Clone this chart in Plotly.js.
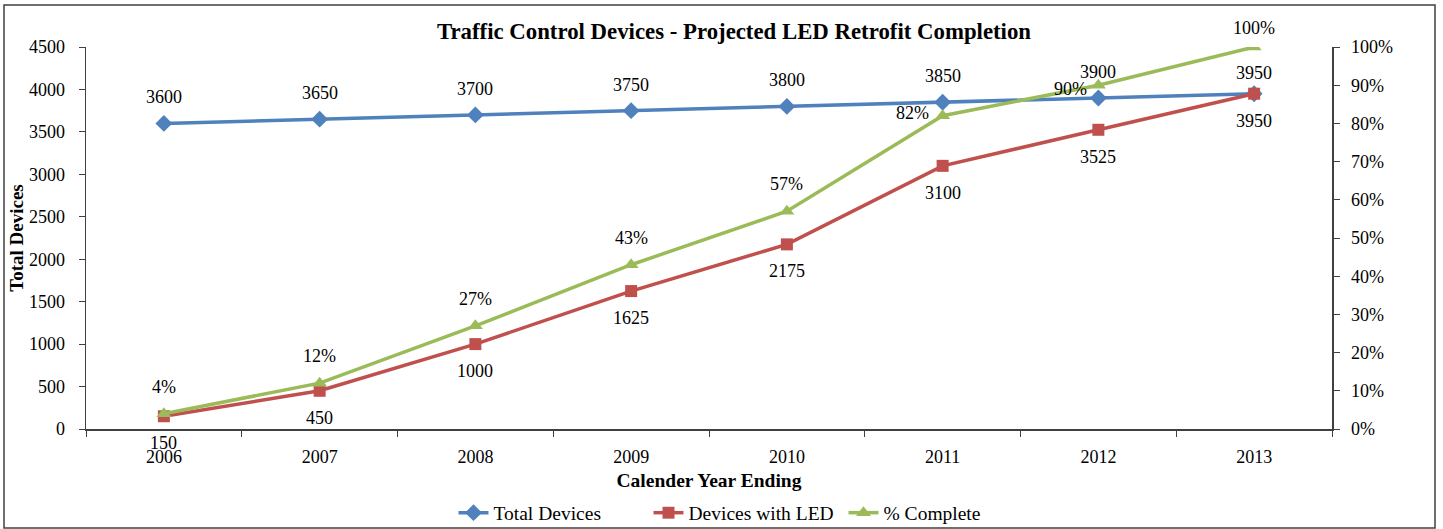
<!DOCTYPE html>
<html>
<head>
<meta charset="utf-8">
<script src="https://cdn.plot.ly/plotly-3.0.1.min.js"></script>
<style>html,body{margin:0;padding:0;background:#fff;}#chart{width:1443px;height:529px;}</style>
</head>
<body>
<div id="chart"></div>
<script>
const years = ['2006','2007','2008','2009','2010','2011','2012','2013'];
const totalDevices = [3600,3650,3700,3750,3800,3850,3900,3950];
const ledDevices = [150,450,1000,1625,2175,3100,3525,3950];
const pctComplete = [0.04,0.12,0.27,0.43,0.57,0.82,0.90,1.00];
const pctLabels = ['4%','12%','27%','43%','57%','82%','90%','100%'];

const FONT = 'Liberation Serif, Times New Roman, serif';
const AX = '#404040';
const FS = 18;

const traces = [
  {x: years, y: totalDevices, name: 'Total Devices', type: 'scatter', mode: 'lines+markers',
   line: {color: '#4F81BD', width: 3.5}, marker: {symbol: 'diamond', size: 13, color: '#4F81BD'}},
  {x: years, y: ledDevices, name: 'Devices with LED', type: 'scatter', mode: 'lines+markers',
   line: {color: '#C0504D', width: 3.5}, marker: {symbol: 'square', size: 12, color: '#C0504D'}},
  {x: years, y: pctComplete, name: '% Complete', type: 'scatter', mode: 'lines+markers', yaxis: 'y2',
   line: {color: '#9BBB59', width: 3.5}, marker: {symbol: 'triangle-up', size: 13, color: '#9BBB59'}}
];

// Annotations on a category axis: position by category index
const annotations = [];
const base = {showarrow: false, font: {family: FONT, size: FS, color: '#000'}};
years.forEach((yr, i) => {
  annotations.push(Object.assign({}, base, {x: i, y: totalDevices[i], xref: 'x', yref: 'y',
    text: String(totalDevices[i]), yshift: i === 7 ? 21 : 26}));
  annotations.push(Object.assign({}, base, {x: i, y: ledDevices[i], xref: 'x', yref: 'y',
    text: String(ledDevices[i]), yshift: -27}));
  let xs = 0, ys = 27;
  if (i === 5) { xs = -30; ys = 3; }
  if (i === 6) { xs = -28; ys = -4; }
  if (i === 7) { ys = 19; }
  annotations.push(Object.assign({}, base, {x: i, y: pctComplete[i], xref: 'x', yref: 'y2',
    text: pctLabels[i], yshift: ys, xshift: xs}));
});

const L = 86, R = 1332, T = 47, B = 429, W = 1443, H = 529;
const pw = R - L, ph = B - T;

const layout = {
  width: W, height: H,
  margin: {l: L, r: W - R, t: T, b: H - B, pad: 0},
  paper_bgcolor: '#fff', plot_bgcolor: '#fff',
  font: {family: FONT, size: FS, color: '#000'},
  title: {text: '<b>Traffic Control Devices - Projected LED Retrofit Completion</b>',
    font: {family: FONT, size: 22.8, color: '#000'}, x: 734 / W, xanchor: 'center', y: 1 - 31 / H, yanchor: 'middle'},
  showlegend: true,
  legend: {orientation: 'h', x: 746 / W, xref: 'container', xanchor: 'center', y: 1 - 513 / H, yref: 'container', yanchor: 'middle',
    font: {family: FONT, size: 19.5, color: '#000'}, itemwidth: 30, tracegroupgap: 0, entrywidth: 150,
    bgcolor: 'rgba(0,0,0,0)'},
  xaxis: {type: 'category', range: [-0.5, 7.5], tickson: 'boundaries', ticks: 'outside', ticklen: 6,
    tickcolor: AX, showline: true, linecolor: AX, linewidth: 1.5, showgrid: false, zeroline: false,
    tickfont: {family: FONT, size: FS, color: '#000'}, ticklabelstandoff: 11,
    title: {text: '<b>Calender Year Ending</b>', font: {family: FONT, size: 19.5, color: '#000'}, standoff: 7}},
  yaxis: {range: [0, 4500], dtick: 500, ticks: 'outside', ticklen: 6, tickcolor: AX, showline: true,
    linecolor: AX, linewidth: 1.5, showgrid: false, zeroline: false, ticklabelstandoff: 10,
    tickfont: {family: FONT, size: FS, color: '#000'},
    title: {text: '<b>Total Devices</b>', font: {family: FONT, size: 19, color: '#000'}, standoff: 0}},
  yaxis2: {range: [0, 1], dtick: 0.1, tickformat: '.0%', overlaying: 'y', side: 'right', ticks: 'outside',
    ticklen: 6, tickcolor: AX, showline: true, linecolor: AX, linewidth: 1.5, showgrid: false, zeroline: false,
    ticklabelstandoff: 8, tickfont: {family: FONT, size: FS, color: '#000'}},
  annotations: annotations,
  shapes: [{type: 'rect', xref: 'paper', yref: 'paper',
    x0: (4 - L) / pw, x1: (1435 - L) / pw, y0: (B - 528) / ph, y1: (B - 5) / ph,
    line: {color: '#404040', width: 1.5}, fillcolor: 'rgba(0,0,0,0)', layer: 'below'}]
};

Plotly.newPlot('chart', traces, layout, {displayModeBar: false, staticPlot: true});
</script>
</body>
</html>
